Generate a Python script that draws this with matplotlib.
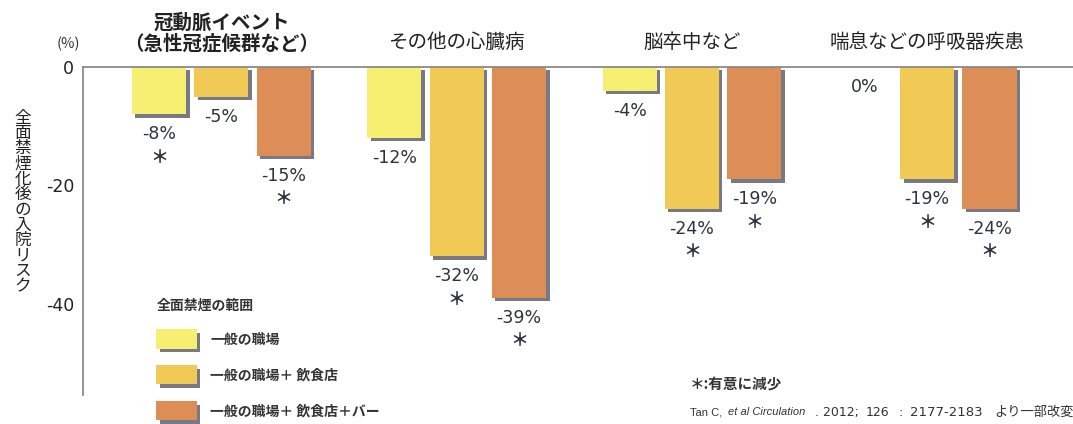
import numpy as np
import matplotlib
matplotlib.use("Agg")
import matplotlib.pyplot as plt
import matplotlib.patheffects as pe
from matplotlib.patches import Patch

plt.rcParams['font.family'] = ['Noto Sans CJK JP', 'DejaVu Sans']

# hospital admission change after smoke-free laws (%)
categories = ['冠動脈イベント\n（急性冠症候群など）', 'その他の心臓病', '脳卒中など', '喘息などの呼吸器疾患']
series_names = ['一般の職場', '一般の職場＋ 飲食店', '一般の職場＋ 飲食店＋バー']
workplace = [-8, -12, -4, 0]
workplace_rest = [-5, -32, -24, -19]
workplace_rest_bar = [-15, -39, -19, -24]
# significant reduction marks
sig_workplace = [True, False, False, False]
sig_workplace_rest = [False, True, True, True]
sig_workplace_rest_bar = [True, True, True, True]

yticks = [0, -20, -40]
ylabel = '全面禁煙化後の入院リスク'
colors = ['#f7ef72', '#f1ca55', '#dd8d56']
txt_col = '#2f3140'

series = [workplace, workplace_rest, workplace_rest_bar]
sigs = [sig_workplace, sig_workplace_rest, sig_workplace_rest_bar]

shadow = [pe.SimplePatchShadow(offset=(2.5, -2.5), shadow_rgbFace='#4b4c5c', alpha=0.75), pe.Normal()]
num_font = ['DejaVu Sans']

fig = plt.figure(figsize=(10.73, 4.24), dpi=100)
ax = fig.add_axes([0.077, 0.068, 0.923, 0.774])

x = np.arange(len(categories))
offs = [-0.265, 0.0, 0.265]
width = 0.23

for vals, sig, off, col in zip(series, sigs, offs, colors):
    bars = ax.bar(x + off, vals, width, color=col, zorder=2)
    for b, v, s in zip(bars, vals, sig):
        if v != 0:
            b.set_path_effects(shadow)
        cx = b.get_x() + b.get_width() / 2
        ax.annotate(f'{v}%', (cx, v), xytext=(0, -8), textcoords='offset points',
                    ha='center', va='top', fontsize=12.5, color=txt_col, family=num_font)
        if s:
            ax.annotate('＊', (cx, v), xytext=(0, -24), textcoords='offset points',
                        ha='center', va='top', fontsize=13, color=txt_col,
                        fontweight='bold')

ax.set_xlim(-0.59, 3.62)
ax.set_ylim(-55.5, 0)
ax.set_yticks(yticks)
ax.set_yticklabels([str(t) for t in yticks], family=num_font, fontsize=12.5, color='#222222')
ax.tick_params(axis='y', length=0, pad=6)

ax.xaxis.tick_top()
ax.set_xticks(x)
ax.set_xticklabels(categories, fontsize=14, color='#222222', linespacing=1.05)
ax.tick_params(axis='x', length=0, pad=10)
ax.get_xticklabels()[0].set_fontweight('bold')

for side in ['bottom', 'right']:
    ax.spines[side].set_visible(False)
for side in ['top', 'left']:
    ax.spines[side].set_color('#8a8a8a')
    ax.spines[side].set_linewidth(1.3)

fig.text(0.064, 0.897, '(%)', fontsize=10.5, color='#333333', ha='center', va='center')

# vertical axis title, one upright character per line
fig.text(0.021, 0.523, '\n'.join(ylabel), fontsize=12, color='#222222',
         ha='center', va='center', linespacing=0.87)

handles = [Patch(facecolor=c, path_effects=shadow) for c in colors]
leg = ax.legend(handles, series_names, title='全面禁煙の範囲', loc='upper left',
                bbox_to_anchor=(0.134, 0.325), bbox_transform=fig.transFigure,
                frameon=False, fontsize=10, title_fontsize=10,
                handlelength=2.9, handleheight=1.75, labelspacing=1.2,
                handletextpad=1.0, alignment='left')
for t in leg.get_texts():
    t.set_fontweight('bold')
    t.set_color('#333333')
leg.get_title().set_fontweight('bold')
leg.get_title().set_color('#333333')

fig.text(0.643, 0.092, '＊:有意に減少', fontsize=10.5, fontweight='bold', color='#333333',
         va='center')

# source line, placed piece by piece
cite_y = 0.028
fig.text(690 / 1073, cite_y, 'Tan C,', fontsize=8, color='#333333', va='center',
         family=['Liberation Sans'])
fig.text(728 / 1073, cite_y, 'et al Circulation', fontsize=8, color='#333333', va='center',
         family=['Liberation Sans'], style='italic')
fig.text(815 / 1073, cite_y, '. 2012;', fontsize=9, color='#333333', va='center',
         family=num_font)
fig.text(866 / 1073, cite_y, '126', fontsize=9, color='#333333', va='center', family=num_font)
fig.text(898 / 1073, cite_y, ':', fontsize=9, color='#333333', va='center', family=num_font)
fig.text(910 / 1073, cite_y, '2177-2183', fontsize=9.5, color='#333333', va='center',
         family=num_font)
fig.text(994 / 1073, cite_y, 'より一部改変', fontsize=9.5, color='#333333', va='center')

fig.savefig('out.png', dpi=100, facecolor='white')
